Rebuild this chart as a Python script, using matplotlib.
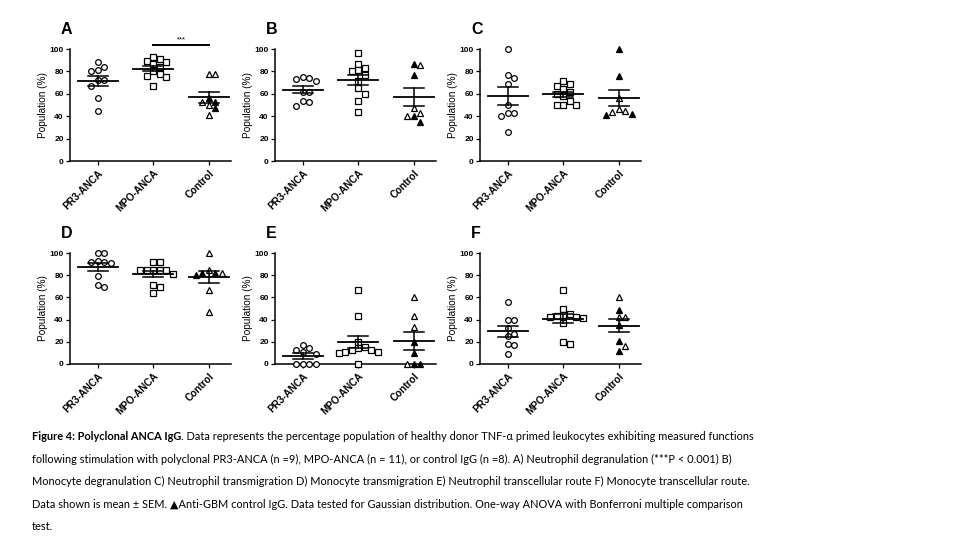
import numpy as np
import matplotlib.pyplot as plt

plt.rcParams["font.family"] = ["Liberation Sans", "DejaVu Sans"]

groups = ["PR3-ANCA", "MPO-ANCA", "Control"]
letters = ["A", "B", "C", "D", "E", "F"]

# values (% population); gbm flags mark the anti-GBM control IgG (filled triangles)
a_pr3 = [88, 84, 81, 80, 72, 72, 67, 56, 45]
a_mpo = [93, 91, 89, 88, 87, 84, 80, 78, 76, 75, 67]
a_ctrl = [78, 78, 56, 53, 53, 50, 47, 41]
a_gbm = [0, 0, 1, 1, 0, 0, 1, 0]

b_pr3 = [75, 74, 73, 71, 62, 62, 54, 53, 49]
b_mpo = [96, 87, 83, 81, 80, 77, 71, 65, 60, 54, 44]
b_ctrl = [87, 86, 77, 47, 43, 40, 40, 35]
b_gbm = [1, 0, 1, 0, 0, 1, 0, 1]

c_pr3 = [100, 77, 74, 69, 50, 43, 43, 40, 26]
c_mpo = [71, 69, 67, 64, 62, 60, 58, 54, 50, 50, 50]
c_ctrl = [100, 76, 56, 46, 45, 44, 42, 41]
c_gbm = [1, 1, 0, 0, 0, 0, 1, 1]

d_pr3 = [100, 100, 93, 92, 92, 91, 79, 71, 69]
d_mpo = [92, 92, 85, 85, 85, 85, 85, 81, 71, 69, 64]
d_ctrl = [100, 85, 82, 82, 82, 80, 67, 47]
d_gbm = [0, 0, 1, 1, 0, 1, 0, 0]

e_pr3 = [17, 14, 13, 11, 9, 0, 0, 0, 0]
e_mpo = [67, 43, 20, 15, 14, 13, 13, 11, 11, 10, 0]
e_ctrl = [60, 43, 33, 20, 10, 0, 0, 0]
e_gbm = [0, 0, 0, 1, 1, 1, 1, 0]

f_pr3 = [56, 40, 40, 32, 27, 25, 18, 17, 9]
f_mpo = [67, 50, 45, 44, 43, 42, 42, 41, 37, 20, 18]
f_ctrl = [60, 49, 42, 42, 35, 21, 16, 12]
f_gbm = [0, 1, 0, 0, 1, 1, 0, 1]

panels = [
    (a_pr3, a_mpo, a_ctrl, a_gbm),
    (b_pr3, b_mpo, b_ctrl, b_gbm),
    (c_pr3, c_mpo, c_ctrl, c_gbm),
    (d_pr3, d_mpo, d_ctrl, d_gbm),
    (e_pr3, e_mpo, e_ctrl, e_gbm),
    (f_pr3, f_mpo, f_ctrl, f_gbm),
]

W, H = 960, 540
fig = plt.figure(figsize=(9.6, 5.4), dpi=100)

lefts = [70, 275, 480]
rows = [(49, 161), (253, 364)]  # pixel y of 100 and 0


def swarm(vals, xpx, ypx, step=6.5, gap=6.0):
    # simple beeswarm: spread points sideways so markers don't overlap
    placed = []
    offs = []
    for v in vals:
        for k in [0, 1, -1, 2, -2, 3, -3, 4, -4, 5, -5]:
            dx = k * step
            ok = all((dx - px) ** 2 + ((v - pv) * ypx) ** 2 >= gap ** 2 for px, pv in placed)
            if ok:
                break
        placed.append((dx, v))
        offs.append(dx / xpx)
    return offs


for i, (pr3, mpo, ctrl, gbm) in enumerate(panels):
    r, c = divmod(i, 3)
    top, bot = rows[r]
    left = lefts[c]
    ax = fig.add_axes([left / W, 1 - bot / H, 161 / W, (bot - top) / H])
    ax.set_xlim(-0.5, 2.4)
    ax.set_ylim(0, 100)
    xpx = 161 / 2.9
    ypx = (bot - top) / 100

    data = [pr3, mpo, ctrl]
    for g, vals in enumerate(data):
        offs = swarm(vals, xpx, ypx)
        for j, (v, o) in enumerate(zip(vals, offs)):
            if g == 0:
                m, fc = "o", "white"
            elif g == 1:
                m, fc = "s", "white"
            else:
                m = "^"
                fc = "black" if gbm[j] else "white"
            ax.plot(g + o, v, marker=m, ms=4.1 if m != "^" else 4.3, mfc=fc, mec="black",
                    mew=0.9, ls="none", clip_on=False, zorder=3)
        mean = np.mean(vals)
        sem = np.std(vals, ddof=1) / np.sqrt(len(vals))
        ax.plot([g - 0.36, g + 0.36], [mean, mean], color="black", lw=1.3, zorder=4)
        ax.plot([g, g], [mean - sem, mean + sem], color="black", lw=1.1, zorder=4)
        for y in (mean - sem, mean + sem):
            ax.plot([g - 0.18, g + 0.18], [y, y], color="black", lw=1.1, zorder=4)

    ax.spines["top"].set_visible(False)
    ax.spines["right"].set_visible(False)
    ax.spines["left"].set_linewidth(1.1)
    ax.spines["bottom"].set_linewidth(1.1)
    ax.set_yticks([0, 20, 40, 60, 80, 100])
    ax.set_xticks([0, 1, 2])
    ax.tick_params(axis="y", length=3, width=0.9, pad=1.5, labelsize=6)
    ax.tick_params(axis="x", length=3, width=0.9, pad=2)
    for lab in ax.get_yticklabels():
        lab.set_fontweight("bold")
    ax.set_xticklabels(groups, rotation=45, ha="right", va="top",
                       rotation_mode="anchor", fontsize=7.2, fontweight="bold")
    ax.set_ylabel("Population (%)", fontsize=7.2, labelpad=1)

    fig.text((left - 9) / W, 1 - (top - 20) / H, letters[i], fontsize=11.5,
             fontweight="bold", ha="left", va="center")

    if i == 0:
        ax.plot([1, 2], [104, 104], color="black", lw=1.4, clip_on=False)
        ax.text(1.5, 105, "***", ha="center", va="bottom", fontsize=5.5)

# caption
cap_font = ["Lato", "DejaVu Sans"]
cs = 7.9
x0 = 32 / W
b = fig.text(x0, 1 - 437 / H, "Figure 4: Polyclonal ANCA IgG", fontsize=cs,
             fontweight="bold", family=cap_font, va="center")
fig.canvas.draw()
bb = b.get_window_extent()
fig.text(bb.x1 / W, 1 - 437 / H,
         ". Data represents the percentage population of healthy donor TNF-\u03b1 primed leukocytes exhibiting measured functions",
         fontsize=cs, family=cap_font, va="center")
lines = [
    "following stimulation with polyclonal PR3-ANCA (n =9), MPO-ANCA (n = 11), or control IgG (n =8). A) Neutrophil degranulation (***P < 0.001) B)",
    "Monocyte degranulation C) Neutrophil transmigration D) Monocyte transmigration E) Neutrophil transcellular route F) Monocyte transcellular route.",
    "Data shown is mean \u00b1 SEM. \u25b2Anti-GBM control IgG. Data tested for Gaussian distribution. One-way ANOVA with Bonferroni multiple comparison",
    "test.",
]
for k, ln in enumerate(lines):
    fig.text(x0, 1 - (459 + 22.5 * k) / H, ln, fontsize=cs, family=cap_font, va="center")

fig.savefig("out.png", dpi=100)
